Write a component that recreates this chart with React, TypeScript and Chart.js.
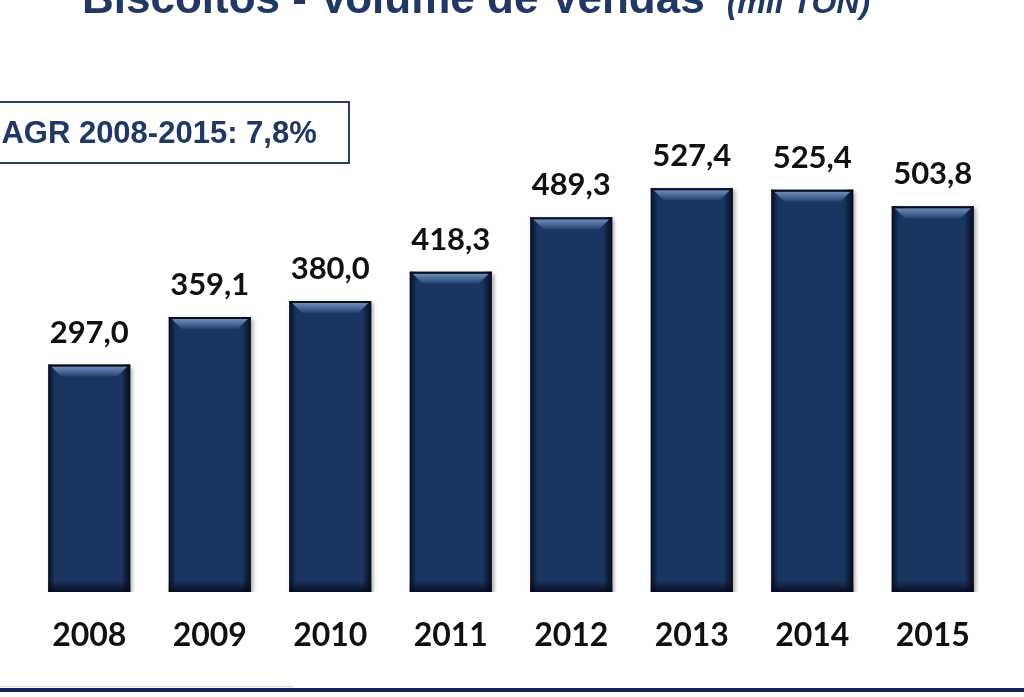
import React, { useEffect, useRef } from "react";
import { Chart, registerables } from "chart.js";

Chart.register(...registerables);

const categories: string[] = ["2008", "2009", "2010", "2011", "2012", "2013", "2014", "2015"];
const volumes: number[] = [297.0, 359.1, 380.0, 418.3, 489.3, 527.4, 525.4, 503.8];
const titleMain = "Biscoitos - Volume de Vendas";
const titleUnit = "(mil TON)";
const cagrText = "CAGR 2008-2015: 7,8%";

const NAVY = "#1f3864";
const BAR = "#1a355f";

const fmt = (v: number) => v.toFixed(1).replace(".", ",");

const decorPlugin = {
  id: "decor",
  beforeDraw(chart: any) {
    const { ctx, width, height } = chart;
    ctx.save();
    ctx.fillStyle = "#ffffff";
    ctx.fillRect(0, 0, width, height);
    ctx.restore();
  },
  beforeDatasetsDraw(chart: any) {
    const ctx = chart.ctx;
    ctx.save();
    ctx.shadowColor = "rgba(0,0,0,0.35)";
    ctx.shadowBlur = 4;
    ctx.shadowOffsetX = 2;
    ctx.shadowOffsetY = 2;
  },
  afterDatasetsDraw(chart: any) {
    const ctx = chart.ctx;
    ctx.restore();
    const meta = chart.getDatasetMeta(0);
    meta.data.forEach((bar: any, i: number) => {
      const { x, y, base, width } = bar.getProps(["x", "y", "base", "width"], true);
      const x0 = x - width / 2;
      const x1 = x + width / 2;
      const top = y;
      const bottom = base;
      const h = bottom - top;
      ctx.save();
      let g = ctx.createLinearGradient(x0, 0, x0 + 7, 0);
      g.addColorStop(0, "rgba(4,10,24,0.9)");
      g.addColorStop(1, "rgba(4,10,24,0)");
      ctx.fillStyle = g;
      ctx.fillRect(x0, top, 7, h);
      g = ctx.createLinearGradient(x1 - 9, 0, x1, 0);
      g.addColorStop(0, "rgba(4,10,24,0)");
      g.addColorStop(1, "rgba(4,10,24,0.95)");
      ctx.fillStyle = g;
      ctx.fillRect(x1 - 9, top, 9, h);
      g = ctx.createLinearGradient(0, bottom - 11, 0, bottom);
      g.addColorStop(0, "rgba(4,10,24,0)");
      g.addColorStop(1, "rgba(4,10,24,0.9)");
      ctx.fillStyle = g;
      ctx.fillRect(x0, bottom - 11, width, 11);
      g = ctx.createLinearGradient(0, top + 2, 0, top + 12);
      g.addColorStop(0, "#6f8cb8");
      g.addColorStop(0.5, "#496999");
      g.addColorStop(1, "#24406c");
      ctx.fillStyle = g;
      ctx.beginPath();
      ctx.moveTo(x0 + 3, top + 2);
      ctx.lineTo(x1 - 3, top + 2);
      ctx.lineTo(x1 - 13, top + 12);
      ctx.lineTo(x0 + 13, top + 12);
      ctx.closePath();
      ctx.fill();
      ctx.fillStyle = "rgba(4,10,24,0.85)";
      ctx.fillRect(x0, top, width, 2);
      ctx.fillStyle = "#111111";
      ctx.font = "bold 31px Lato, 'Noto Sans', sans-serif";
      ctx.textAlign = "center";
      ctx.textBaseline = "alphabetic";
      ctx.fillText(fmt(volumes[i]), x, top - 22);
      ctx.restore();
    });
  },
  afterDraw(chart: any) {
    const { ctx, width } = chart;
    ctx.save();
    ctx.fillStyle = NAVY;
    ctx.textBaseline = "alphabetic";
    ctx.textAlign = "left";
    ctx.font = "bold 44px 'Liberation Sans', Arial, sans-serif";
    ctx.fillText(titleMain, 82, 13);
    const w = ctx.measureText(titleMain).width;
    ctx.font = "italic bold 32px 'Liberation Sans', Arial, sans-serif";
    ctx.fillText(titleUnit, 82 + w + 22, 13);
    ctx.strokeStyle = "#2b3f63";
    ctx.lineWidth = 2;
    ctx.strokeRect(-10, 102, 359, 61);
    ctx.fillStyle = NAVY;
    ctx.font = "bold 31px 'Liberation Sans', Arial, sans-serif";
    ctx.fillText(cagrText, -21, 143);
    ctx.fillStyle = "#c9d8ef";
    ctx.fillRect(0, 686, 293, 1);
    ctx.fillStyle = "#14205a";
    ctx.fillRect(0, 688, width, 4);
    ctx.restore();
  },
};

export default function App() {
  const ref = useRef<HTMLCanvasElement | null>(null);
  useEffect(() => {
    if (!ref.current) return;
    const chart = new Chart(ref.current, {
      type: "bar",
      data: {
        labels: categories,
        datasets: [
          {
            data: volumes,
            backgroundColor: BAR,
            borderWidth: 0,
            barPercentage: 0.68,
            categoryPercentage: 1,
          },
        ],
      },
      options: {
        animation: false,
        responsive: false,
        devicePixelRatio: 1,
        layout: { padding: { left: 29, right: 31, top: 56, bottom: 43 } },
        plugins: { legend: { display: false }, title: { display: false }, tooltip: { enabled: false } },
        scales: {
          x: {
            grid: { display: false, drawTicks: false },
            border: { display: false },
            ticks: {
              color: "#111111",
              padding: 24,
              font: { family: "Lato, 'Noto Sans', sans-serif", size: 32, weight: "bold" },
            },
            afterFit: (scale: any) => {
              scale.height = 62;
            },
          },
          y: {
            display: false,
            min: 0,
            max: 700,
          },
        },
      },
      plugins: [decorPlugin],
    });
    return () => chart.destroy();
  }, []);
  return (
    <div style={{ position: "fixed", left: 0, top: 0, width: 1024, height: 697, background: "#fff" }}>
      <canvas ref={ref} width={1024} height={697} style={{ display: "block" }} />
    </div>
  );
}
